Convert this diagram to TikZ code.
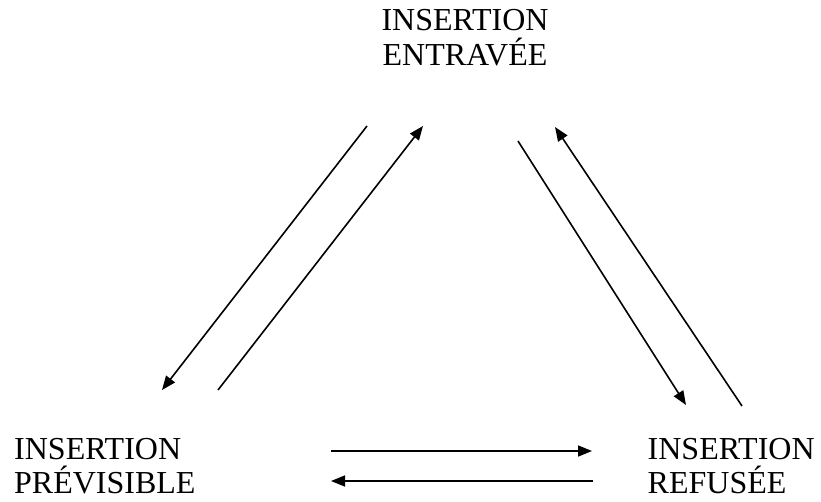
\documentclass[tikz,border=0pt]{standalone}
\usepackage{fontspec}
\setmainfont{Liberation Serif}
\usetikzlibrary{arrows.meta}
\begin{document}
\begin{tikzpicture}[x=1pt,y=-1pt,
  lbl/.style={inner sep=0pt,font=\fontsize{32}{34.3}\selectfont},
  conn/.style={line width=1.6pt,-{Triangle[length=14pt,width=11pt]}}]
\useasboundingbox (0,0) rectangle (821,501);
\node[lbl,align=center,anchor=base] (ent) at (465,65) {INSERTION\\ENTRAVÉE};
\node[lbl,align=left,anchor=base west] (prev) at (14,493.3) {INSERTION\\PRÉVISIBLE};
\node[lbl,align=left,anchor=base west] (ref) at (647.5,493.3) {INSERTION\\REFUSÉE};
% endpoints
\coordinate (a1) at (367,126); \coordinate (a2) at (162,390);
\coordinate (b1) at (218,390); \coordinate (b2) at (423,126);
\coordinate (c1) at (518,141); \coordinate (c2) at (686,405);
\coordinate (d1) at (742,406); \coordinate (d2) at (555,127);
\coordinate (e1) at (331,451); \coordinate (e2) at (592,451);
\coordinate (f1) at (593,481); \coordinate (f2) at (331,481);
\draw[conn] (a1) -- (a2);
\draw[conn] (b1) -- (b2);
\draw[conn] (c1) -- (c2);
\draw[conn] (d1) -- (d2);
\draw[conn] (e1) -- (e2);
\draw[conn] (f1) -- (f2);
\end{tikzpicture}
\end{document}
